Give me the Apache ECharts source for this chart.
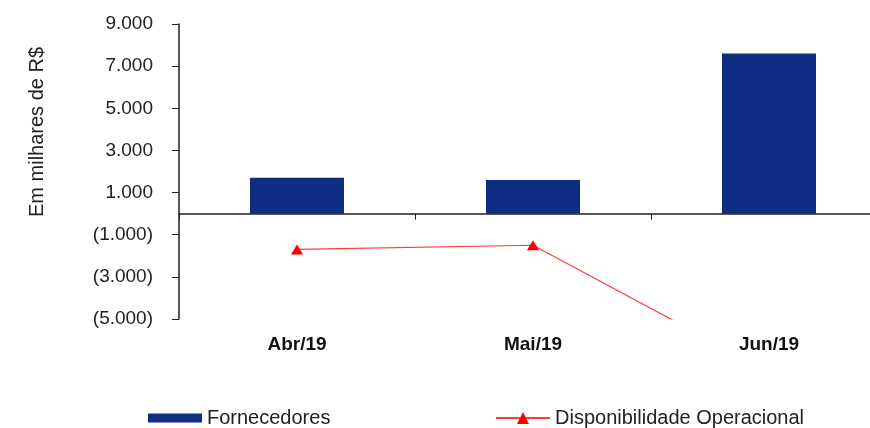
<!DOCTYPE html>
<html>
<head>
<meta charset="utf-8">
<script src="https://cdn.jsdelivr.net/npm/echarts@6/dist/echarts.min.js"></script>
<style>
html,body{margin:0;padding:0;background:#fff;overflow:hidden;width:870px;height:428px;}
#chart{width:887px;height:428px;}
</style>
</head>
<body>
<div id="chart"></div>
<script>
const categories = ['Abr/19', 'Mai/19', 'Jun/19'];
const fornecedores = [1700, 1600, 7600];
const disponibilidade = [-1700, -1500, -7500];
const yTicks = [-5000, -3000, -1000, 1000, 3000, 5000, 7000, 9000];
const yMin = -5000, yMax = 9000;
const yAxisTitle = 'Em milhares de R$';
const seriesNames = ['Fornecedores', 'Disponibilidade Operacional'];

function fmtThousands(n) {
  return String(n).replace(/\B(?=(\d{3})+(?!\d))/g, '.');
}
function fmtValue(v) {
  return v < 0 ? '(' + fmtThousands(-v) + ')' : fmtThousands(v);
}

const FONT = '"Liberation Sans", Arial, sans-serif';
const chart = echarts.init(document.getElementById('chart'));
chart.setOption({
  animation: false,
  backgroundColor: '#ffffff',
  grid: { left: 179, right: 0, top: 24, bottom: 109, containLabel: false },
  graphic: [{
    type: 'text',
    x: 37, y: 132,
    rotation: Math.PI / 2,
    style: {
      text: yAxisTitle,
      fontFamily: FONT, fontSize: 20, fill: '#222',
      textAlign: 'center', textVerticalAlign: 'middle'
    }
  }],
  legend: [
    {
      data: [{ name: seriesNames[0], icon: 'rect' }], left: 143, top: 403,
      itemWidth: 54, itemHeight: 9, itemGap: 0,
      textStyle: { fontFamily: FONT, fontSize: 20, color: '#222' }
    },
    {
      data: [seriesNames[1]], left: 490, top: 403,
      itemWidth: 54, itemHeight: 15, itemGap: 0,
      textStyle: { fontFamily: FONT, fontSize: 20, color: '#222' }
    }
  ],
  xAxis: [
    {
      type: 'category', data: categories,
      axisLine: { onZero: true, lineStyle: { color: '#222', width: 1.5 } },
      axisTick: { show: true, length: 6, lineStyle: { color: '#222' } },
      axisLabel: { show: false },
      splitLine: { show: false }
    },
    {
      type: 'category', data: categories, position: 'bottom',
      axisLine: { show: false, onZero: false },
      axisTick: { show: false },
      axisLabel: { margin: 16, fontFamily: FONT, fontSize: 19, fontWeight: 'bold', color: '#111' },
      splitLine: { show: false }
    }
  ],
  yAxis: {
    type: 'value', min: yMin, max: yMax, interval: 1000,
    axisLine: { show: true, lineStyle: { color: '#222', width: 1.5 } },
    axisTick: { show: true, length: 7, customValues: yTicks, lineStyle: { color: '#222' } },
    axisLabel: {
      customValues: yTicks, margin: 26,
      fontFamily: FONT, fontSize: 19, color: '#222',
      formatter: fmtValue
    },
    splitLine: { show: false }
  },
  series: [
    {
      name: seriesNames[0], type: 'bar', data: fornecedores,
      xAxisIndex: 0, barWidth: 94,
      itemStyle: { color: '#0e2d83' }
    },
    {
      name: seriesNames[1], type: 'line', data: disponibilidade,
      xAxisIndex: 0,
      symbol: 'triangle', symbolSize: [12, 10],
      lineStyle: { color: '#ff3b3b', width: 1.2 },
      itemStyle: { color: '#ff0000' },
      clip: true
    }
  ]
});
</script>
</body>
</html>
